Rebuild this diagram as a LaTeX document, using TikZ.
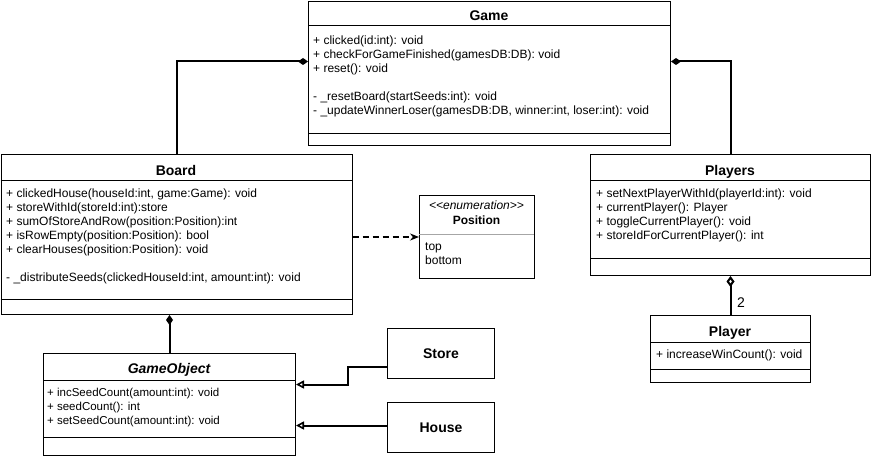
\documentclass[tikz,border=0pt]{standalone}
\usepackage{fontspec}
\setmainfont{Liberation Sans}
\usetikzlibrary{arrows.meta}

\tikzset{
  classbox/.style={draw, line width=1pt, anchor=north west, inner sep=0pt},
  classname/.style={font=\fontsize{14}{16}\selectfont\bfseries, anchor=base, inner sep=0pt},
  members/.style={font=\fontsize{12}{14}\selectfont, align=left, anchor=north west, inner sep=0pt},
  divider/.style={line width=1pt},
  link/.style={line width=2pt},
  composite/.style={link, {Diamond[length=10pt,width=7pt]}-},
  aggregate/.style={link, {Diamond[open,length=11pt,width=8pt]}-},
  inherits/.style={link, -{Triangle[open,length=8pt,width=8pt,line width=1.6pt]}},
}

\begin{document}
\begin{tikzpicture}[x=1pt, y=-1pt]
    \useasboundingbox (0,0) rectangle (872,457);

    % Game
    \node[classbox, minimum width=362pt, minimum height=144pt] (game) at (308,1) {};
    \node[classname] (game-name) at (489,21) {Game};
    \draw[divider] (308,26) -- (670,26) (308,134) -- (670,134);
    \node[members] (game-ops) at (313,35.5) {+ clicked(id:int): void\\
        + checkForGameFinished(gamesDB:DB): void\\
        + reset(): void\\[14pt]
        - \_resetBoard(startSeeds:int): void\\
        - \_updateWinnerLoser(gamesDB:DB, winner:int, loser:int): void};

    % Board
    \node[classbox, minimum width=351pt, minimum height=160pt] (board) at (0.5,154) {};
    \node[classname] (board-name) at (176,175.5) {Board};
    \draw[divider] (0.5,181) -- (351.5,181) (0.5,299) -- (351.5,299);
    \node[members] (board-ops) at (6,189) {+ clickedHouse(houseId:int, game:Game): void\\
        + storeWithId(storeId:int):store\\
        + sumOfStoreAndRow(position:Position):int\\
        + isRowEmpty(position:Position): bool\\
        + clearHouses(position:Position): void\\[14pt]
        - \_distributeSeeds(clickedHouseId:int, amount:int): void};

    % Position (enumeration)
    \node[classbox, minimum width=115pt, minimum height=83pt] (position) at (419,195) {};
    \node[anchor=base, inner sep=0pt, font=\fontsize{12}{14}\selectfont\itshape] (position-kind) at (476.5,209.5) {<\kern0pt<enumeration>\kern0pt>};
    \node[classname, font=\fontsize{12}{14}\selectfont\bfseries] (position-name) at (476.5,224) {Position};
    \draw[gray!70, line width=0.8pt] (419,234) -- (534,234);
    \node[members] (position-vals) at (425,243) {top\\bottom};

    % Players
    \node[classbox, minimum width=280pt, minimum height=121pt] (players) at (590,154) {};
    \node[classname] (players-name) at (730,175.5) {Players};
    \draw[divider] (590,181) -- (870,181) (590,258) -- (870,258);
    \node[members] (players-ops) at (596,189) {+ setNextPlayerWithId(playerId:int): void\\
        + currentPlayer(): Player\\
        + toggleCurrentPlayer(): void\\
        + storeIdForCurrentPlayer(): int};

    % Player
    \node[classbox, minimum width=160pt, minimum height=67pt] (player) at (650,315) {};
    \node[classname] (player-name) at (730,336) {Player};
    \draw[divider] (650,342) -- (810,342) (650,369) -- (810,369);
    \node[members] (player-ops) at (656,349.5) {+ increaseWinCount(): void};

    % GameObject
    \node[classbox, minimum width=252pt, minimum height=102pt] (gameobject) at (43,353) {};
    \node[classname, font=\fontsize{14}{16}\selectfont\bfseries\itshape] (gameobject-name) at (169,373.5) {GameObject};
    \draw[divider] (43,380) -- (295,380) (43,437) -- (295,437);
    \node[members, font=\fontsize{11.5}{14}\selectfont] (gameobject-ops) at (47,388) {+ incSeedCount(amount:int): void\\
        + seedCount(): int\\
        + setSeedCount(amount:int): void};

    % Store, House
    \node[classbox, minimum width=107pt, minimum height=50pt, font=\fontsize{14}{16}\selectfont\bfseries] (store) at (387,328) {Store};
    \node[classbox, minimum width=107pt, minimum height=50pt, font=\fontsize{14}{16}\selectfont\bfseries] (house) at (387,402) {House};

    % Kapcsolatok
    \draw[composite] ([yshift=12pt]game.west) -| (board.north);
    \draw[composite] ([yshift=12pt]game.east) -| (players.north);
    \draw[composite] (board.south -| gameobject.north) -- (gameobject.north);
    \draw[link, dash pattern=on 6pt off 4pt, -{Stealth[length=9pt,width=7pt]}] (board.east |- position.west) -- (position.west);
    \draw[aggregate] (players.south) -- (player.north);
    \node[font=\fontsize{14}{16}\selectfont, inner sep=0pt] (player-count) at (741,302.7) {2};
    \draw[inherits] ([yshift=-13pt]store.west) -- ++(-39,0) |- ([yshift=20pt]gameobject.east);
    \draw[inherits] ([yshift=2pt]house.west) -- ([yshift=2pt]house.west -| gameobject.east);
\end{tikzpicture}
\end{document}
